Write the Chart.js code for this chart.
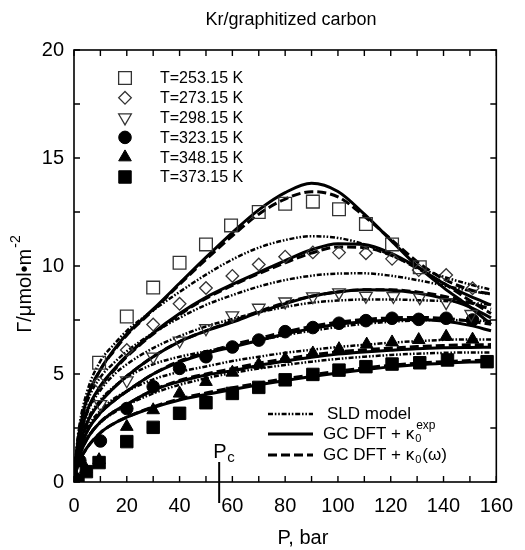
<!DOCTYPE html>
<html><head><meta charset="utf-8">
<script src="https://cdn.jsdelivr.net/npm/chart.js@4/dist/chart.umd.min.js"></script>
<style>html,body{margin:0;padding:0;background:#fff}#wrap{width:525px;height:550px}</style>
</head><body><div id="wrap"><canvas id="c" width="525" height="550"></canvas></div>
<script>
// ---- data ----
const pCurve = [0,1,2,5,10,15,20,30,40,50,60,70,80,90,100,110,120,130,140,150,158];

const sld253 = [0,1.6,2.6,4.2,5.6,6.35,7.0,7.95,8.8,9.6,10.3,10.85,11.2,11.38,11.3,11.0,10.5,9.95,9.5,9.15,8.9];
const sld273 = [0,1.4,2.25,3.7,4.85,5.5,6.05,6.9,7.6,8.2,8.65,9.05,9.35,9.55,9.65,9.66,9.55,9.35,9.1,8.85,8.7];
const sld298 = [0,1.2,1.95,3.2,4.25,4.95,5.45,6.2,6.75,7.2,7.55,7.85,8.1,8.3,8.4,8.45,8.45,8.42,8.38,8.3,8.2];
const sld323 = [0,1.05,1.7,2.85,3.8,4.4,4.85,5.45,5.8,6.05,6.3,6.55,6.8,7.0,7.18,7.32,7.42,7.48,7.5,7.48,7.45];
const sld348 = [0,0.95,1.5,2.5,3.3,3.85,4.2,4.75,5.1,5.35,5.6,5.8,5.98,6.12,6.25,6.35,6.45,6.52,6.58,6.6,6.6];
const sld373 = [0,0.8,1.25,2.05,2.75,3.2,3.55,4.1,4.5,4.8,5.05,5.25,5.42,5.57,5.7,5.8,5.88,5.94,5.98,6.0,6.0];

const gcExp253 = [0,1.4,2.3,3.9,5.2,6.1,6.85,8.0,9.2,10.4,11.55,12.6,13.4,13.83,13.45,12.4,11.2,10.0,9.0,8.1,7.3];
const gcExp273 = [0,1.2,1.95,3.3,4.45,5.2,5.85,6.9,7.8,8.55,9.15,9.7,10.25,10.75,11.03,11.0,10.6,9.95,9.2,8.6,8.2];
const gcExp298 = [0,1.0,1.6,2.75,3.7,4.35,4.9,5.8,6.5,7.0,7.4,7.85,8.25,8.6,8.8,8.9,8.88,8.75,8.5,8.1,7.6];
const gcExp323 = [0,0.85,1.4,2.35,3.2,3.75,4.2,5.0,5.55,5.95,6.25,6.55,6.85,7.1,7.3,7.42,7.5,7.52,7.45,7.25,7.0];
const gcExp348 = [0,0.72,1.2,2.0,2.78,3.25,3.6,4.25,4.65,4.95,5.15,5.4,5.6,5.78,5.92,6.02,6.1,6.17,6.21,6.23,6.24];
const gcExp373 = [0,0.58,0.95,1.6,2.28,2.7,3.0,3.45,3.8,4.05,4.28,4.5,4.7,4.88,5.05,5.2,5.33,5.43,5.5,5.55,5.57];

const gcOm253 = [0,1.4,2.3,3.9,5.2,6.05,6.8,7.95,9.15,10.3,11.4,12.4,13.1,13.44,13.2,12.3,11.25,10.2,9.4,8.9,8.7];
const gcOm273 = [0,1.2,1.95,3.25,4.4,5.15,5.8,6.85,7.75,8.5,9.1,9.65,10.15,10.6,10.88,10.85,10.5,9.9,9.2,8.4,7.8];
const gcOm298 = [0,1.0,1.6,2.75,3.7,4.35,4.9,5.8,6.5,7.0,7.45,7.9,8.3,8.6,8.8,8.9,8.9,8.8,8.6,8.3,8.0];
const gcOm323 = [0,0.85,1.4,2.35,3.2,3.75,4.2,5.0,5.6,6.0,6.35,6.65,6.95,7.2,7.4,7.52,7.6,7.62,7.58,7.45,7.3];
const gcOm348 = [0,0.72,1.2,2.0,2.78,3.25,3.6,4.25,4.7,5.0,5.25,5.5,5.7,5.88,6.02,6.12,6.2,6.27,6.32,6.35,6.36];
const gcOm373 = [0,0.58,0.95,1.6,2.28,2.7,3.0,3.48,3.85,4.12,4.36,4.58,4.78,4.96,5.13,5.28,5.4,5.5,5.57,5.62,5.64];

const pExp253 = [9.5,20,30,40,50,59.5,70,80,90.5,100.4,110.6,120.5,131];
const gExp253 = [5.52,7.66,9.0,10.15,11.0,11.88,12.5,12.88,12.98,12.63,11.94,11.0,9.94];
const pExp273 = [9.5,20,30,40,50,60,70,80,90.5,100.4,110.6,120.5,130.6,141,151];
const gExp273 = [4.6,6.11,7.29,8.25,8.98,9.54,10.07,10.43,10.63,10.62,10.59,10.33,9.81,9.58,8.97];
const pExp298 = [10,20,30,40,50,60,70,80,90.5,100.4,110.6,121,131,141,150.5];
const gExp298 = [3.6,4.7,5.8,6.54,7.11,7.71,8.06,8.35,8.59,8.77,8.61,8.6,8.55,8.32,7.77];
const pExp323 = [0.5,2.2,10,20,30,40,50,60,70,80,90.5,100.4,110.6,120.5,130.6,141,151];
const gExp323 = [0.1,0.99,1.9,3.4,4.41,5.26,5.8,6.25,6.57,6.96,7.15,7.35,7.47,7.58,7.53,7.58,7.5];
const pExp348 = [1,4.5,9.5,20,30,40,50,60,70,80,90.5,100.4,110.9,120.5,130.6,141,151];
const gExp348 = [0.2,0.6,1.02,2.56,3.33,4.1,4.64,5.07,5.44,5.7,5.96,6.16,6.37,6.47,6.58,6.73,6.6];
const pExp373 = [1.5,4.7,9.5,20,30,40,50,60,70,80,90.5,100.4,110.6,120.5,131,141.5,156.5];
const gExp373 = [0.09,0.48,0.9,1.87,2.53,3.18,3.67,4.1,4.38,4.73,4.98,5.18,5.34,5.46,5.52,5.65,5.57];

const tempLabels = ['T=253.15 K','T=273.15 K','T=298.15 K','T=323.15 K','T=348.15 K','T=373.15 K'];
const modelLabels = ['SLD model','GC DFT + κ','GC DFT + κ'];
const xTicks = [0,20,40,60,80,100,120,140,160];
const yTicks = [0,5,10,15,20];
const pCritical = 55;

// ---- styles ----
const markerStyles = [
  {pointStyle:'rect', radius:9, rotation:0, fill:false},
  {pointStyle:'rectRot', radius:6.3, rotation:0, fill:false},
  {pointStyle:'triangle', radius:7.3, rotation:180, fill:false},
  {pointStyle:'circle', radius:6.3, rotation:0, fill:true},
  {pointStyle:'triangle', radius:7.3, rotation:0, fill:true},
  {pointStyle:'rect', radius:8.8, rotation:0, fill:true}
];
const SLD_DASH = [5,1.8,1.6,1.8,1.6,1.8];
const OM_DASH = [9,4];

const toXY = (xs, ys) => xs.map((x,i)=>({x, y:ys[i]}));
const sldSets = [sld253,sld273,sld298,sld323,sld348,sld373];
const expSets = [gcExp253,gcExp273,gcExp298,gcExp323,gcExp348,gcExp373];
const omSets = [gcOm253,gcOm273,gcOm298,gcOm323,gcOm348,gcOm373];
const pts = [[pExp253,gExp253],[pExp273,gExp273],[pExp298,gExp298],[pExp323,gExp323],[pExp348,gExp348],[pExp373,gExp373]];

const datasets = [];
pts.forEach((p,i)=>{
  const m = markerStyles[i];
  datasets.push({
    label: tempLabels[i], data: toXY(p[0],p[1]), showLine:false, order:0,
    pointStyle:m.pointStyle, pointRadius:m.radius, pointRotation:m.rotation,
    pointBorderColor: m.fill ? '#000' : '#333', pointBorderWidth: m.fill ? 1 : 1.3,
    pointBackgroundColor: m.fill ? '#000' : 'rgba(0,0,0,0)'
  });
});
const lineBase = {showLine:true, pointRadius:0, borderColor:'#000', cubicInterpolationMode:'monotone', fill:false, order:1};
sldSets.forEach((s,i)=>datasets.push(Object.assign({}, lineBase, {label:'SLD '+i, data:toXY(pCurve,s), borderWidth:2.5, borderDash:SLD_DASH})));
omSets.forEach((s,i)=>datasets.push(Object.assign({}, lineBase, {label:'OM '+i, data:toXY(pCurve,s), borderWidth:3, borderDash:OM_DASH})));
expSets.forEach((s,i)=>datasets.push(Object.assign({}, lineBase, {label:'EXP '+i, data:toXY(pCurve,s), borderWidth:3})));

const FONT = '"Liberation Sans", Arial, Helvetica, sans-serif';

function drawMarker(ctx, m, x, y) {
  ctx.save();
  ctx.beginPath();
  const r = m.radius, rad = m.rotation*Math.PI/180;
  if (m.pointStyle === 'rect') {
    const s = Math.SQRT1_2*r; ctx.rect(x-s,y-s,2*s,2*s);
  } else if (m.pointStyle === 'rectRot') {
    ctx.moveTo(x, y-r); ctx.lineTo(x+r,y); ctx.lineTo(x,y+r); ctx.lineTo(x-r,y); ctx.closePath();
  } else if (m.pointStyle === 'triangle') {
    let a = rad;
    ctx.moveTo(x+Math.sin(a)*r, y-Math.cos(a)*r); a += 2*Math.PI/3;
    ctx.lineTo(x+Math.sin(a)*r, y-Math.cos(a)*r); a += 2*Math.PI/3;
    ctx.lineTo(x+Math.sin(a)*r, y-Math.cos(a)*r); ctx.closePath();
  } else {
    ctx.arc(x,y,r,0,Math.PI*2);
  }
  if (m.fill) { ctx.fillStyle='#000'; ctx.fill(); ctx.strokeStyle='#000'; ctx.lineWidth=1; ctx.stroke(); }
  else { ctx.strokeStyle='#333'; ctx.lineWidth=1.3; ctx.stroke(); }
  ctx.restore();
}

const decor = {
  id:'decor',
  afterDraw(chart){
    const ctx = chart.ctx, a = chart.chartArea, xs = chart.scales.x, ys = chart.scales.y;
    ctx.save();
    // frame
    ctx.strokeStyle='#000'; ctx.lineWidth=1.6; ctx.setLineDash([]);
    ctx.strokeRect(a.left, a.top, a.right-a.left, a.bottom-a.top);
    // ticks
    ctx.lineWidth=1.4;
    ctx.beginPath();
    for (let v=0; v<=160; v+=10) {
      const px = xs.getPixelForValue(v), L = 6;
      ctx.moveTo(px, a.bottom); ctx.lineTo(px, a.bottom-L);
      ctx.moveTo(px, a.top); ctx.lineTo(px, a.top+L);
    }
    for (let v=0; v<=20; v+=2.5) {
      const py = ys.getPixelForValue(v), L = 6;
      ctx.moveTo(a.left, py); ctx.lineTo(a.left+L, py);
      ctx.moveTo(a.right, py); ctx.lineTo(a.right-L, py);
    }
    ctx.stroke();
    // Pc marker
    const pcx = xs.getPixelForValue(pCritical);
    ctx.lineWidth=2;
    ctx.beginPath(); ctx.moveTo(pcx, a.bottom-20); ctx.lineTo(pcx, a.bottom+21); ctx.stroke();
    ctx.fillStyle='#000';
    ctx.textBaseline='alphabetic'; ctx.textAlign='left';
    ctx.font='20px '+FONT; ctx.fillText('P', pcx-6, a.bottom-24);
    ctx.font='15px '+FONT; ctx.fillText('c', pcx+8, a.bottom-20);

    // title
    ctx.textAlign='center'; ctx.textBaseline='middle';
    ctx.font='18px '+FONT; ctx.fillText('Kr/graphitized carbon', 291, 20);
    // x title
    ctx.font='20px '+FONT; ctx.fillText('P, bar', 303, 538);
    // y title
    ctx.save();
    ctx.translate(25, 284); ctx.rotate(-Math.PI/2);
    ctx.font='20px '+FONT;
    const main='Γ/μmol•m', sup='-2';
    const w1=ctx.measureText(main).width;
    ctx.font='14px '+FONT; const w2=ctx.measureText(sup).width;
    const tot=w1+w2+1;
    ctx.textAlign='left';
    ctx.font='20px '+FONT; ctx.fillText(main, -tot/2, 0);
    ctx.font='14px '+FONT; ctx.fillText(sup, -tot/2+w1+1, -9);
    ctx.restore();

    // top legend
    ctx.textAlign='left'; ctx.textBaseline='middle';
    ctx.font='16px '+FONT;
    tempLabels.forEach((t,i)=>{
      const y = 78 + i*19.8;
      drawMarker(ctx, markerStyles[i], 125, y);
      ctx.fillStyle='#000';
      ctx.fillText(t, 160, y+1);
    });

    // bottom legend
    const rows=[414,434,455];
    const dashes=[SLD_DASH, [], OM_DASH];
    const widths=[2.5,3,3];
    rows.forEach((y,i)=>{
      ctx.beginPath(); ctx.setLineDash(dashes[i]); ctx.lineWidth=widths[i];
      ctx.moveTo(268,y); ctx.lineTo(313,y); ctx.stroke();
    });
    ctx.setLineDash([]);
    ctx.font='17px '+FONT; ctx.textBaseline='middle';
    ctx.fillText(modelLabels[0], 327, rows[0]);
    ctx.fillText(modelLabels[1], 323, rows[1]);
    let w = ctx.measureText(modelLabels[1]).width;
    ctx.font='11px '+FONT; ctx.fillText('0', 323+w+1, rows[1]+5);
    ctx.font='12px '+FONT; ctx.fillText('exp', 323+w+2, rows[1]-8);
    ctx.font='17px '+FONT;
    ctx.fillText(modelLabels[2], 323, rows[2]);
    w = ctx.measureText(modelLabels[2]).width;
    ctx.font='11px '+FONT; ctx.fillText('0', 323+w+1, rows[2]+5);
    const w0 = ctx.measureText('0').width;
    ctx.font='17px '+FONT; ctx.fillText('(ω)', 323+w+w0+2, rows[2]);
    ctx.restore();
  }
};

new Chart(document.getElementById('c'), {
  type:'scatter',
  data:{datasets},
  options:{
    responsive:false, animation:false, devicePixelRatio:1,
    layout:{padding:{top:50,right:19,left:0,bottom:0}},
    plugins:{legend:{display:false}, tooltip:{enabled:false}, title:{display:false}},
    scales:{
      x:{type:'linear', min:0, max:160,
        afterBuildTicks: s => { s.ticks = xTicks.map(v=>({value:v})); },
        afterFit: s => { s.height = 68; },
        ticks:{font:{size:20, family:FONT}, color:'#000', padding:12, maxRotation:0, autoSkip:false},
        grid:{display:false, drawTicks:false}, border:{display:false}},
      y:{type:'linear', min:0, max:20,
        afterBuildTicks: s => { s.ticks = yTicks.map(v=>({value:v})); },
        afterFit: s => { s.width = 74; },
        ticks:{font:{size:20, family:FONT}, color:'#000', padding:10, autoSkip:false},
        grid:{display:false, drawTicks:false}, border:{display:false}}
    }
  },
  plugins:[decor]
});
</script>
</body></html>
